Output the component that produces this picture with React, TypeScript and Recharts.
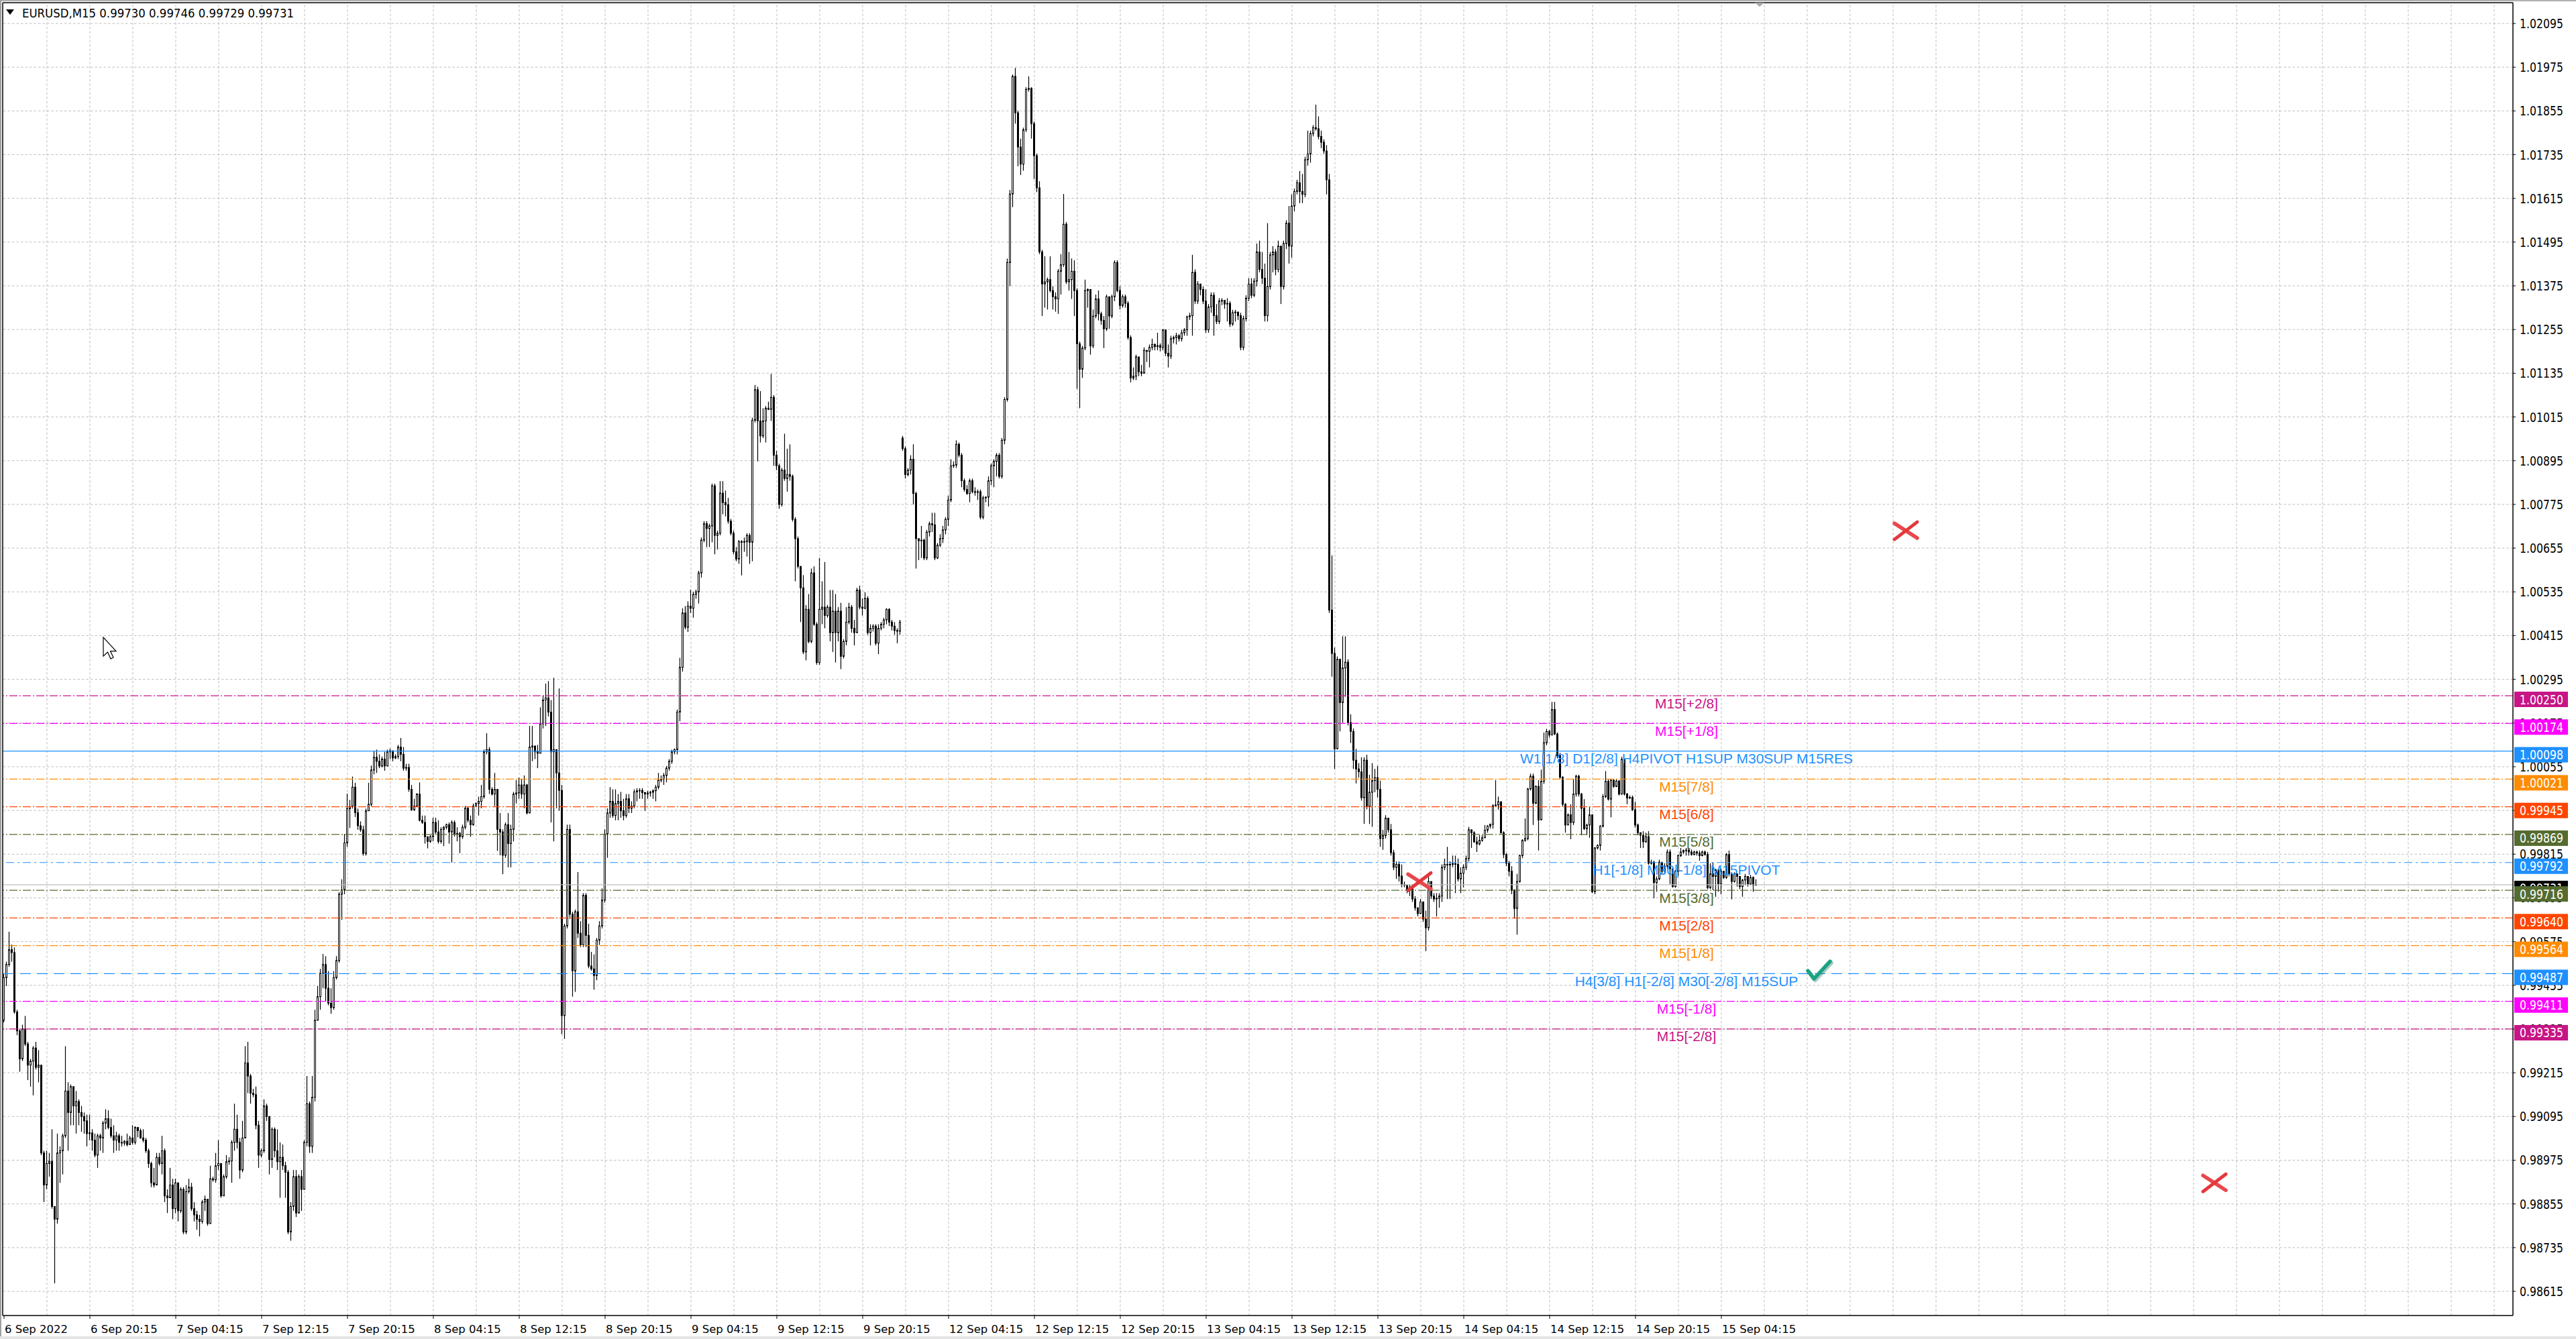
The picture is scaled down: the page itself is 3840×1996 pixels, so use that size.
import React from 'react';
import { ComposedChart, Bar, XAxis, YAxis, ReferenceLine, ReferenceDot } from 'recharts';

// EURUSD M15 candles, prices x 1e5, each bar = [high, low, close]; open = previous close
const FIRST_OPEN = 99359;
const MONDAY_OPEN = 100957;

const SEP06 = [
  [99488, 99353, 99476], [99520, 99453, 99512], [99602, 99506, 99553], [99567, 99520, 99545], [99559, 99377, 99382],
  [99388, 99318, 99330], [99335, 99218, 99253], [99347, 99247, 99335], [99371, 99288, 99294], [99300, 99195, 99236],
  [99253, 99177, 99247], [99288, 99153, 99283], [99300, 99224, 99230], [99277, 99189, 99236], [99230, 98989, 98995],
  [99001, 98860, 98907], [99001, 98895, 98966], [98995, 98930, 98972], [99060, 98842, 98848], [98848, 98637, 98813],
  [99048, 98801, 98995], [99013, 98913, 99001], [99048, 98936, 99042], [99288, 99036, 99165], [99189, 99001, 99106],
  [99183, 99071, 99177], [99177, 99071, 99124], [99165, 99048, 99136], [99142, 99071, 99106], [99124, 99053, 99095],
  [99106, 99048, 99083], [99100, 99013, 99048], [99100, 99030, 99050], [99060, 99001, 99030], [99048, 98983, 98989],
  [99048, 98954, 99042], [99048, 99001, 99036], [99083, 98995, 99077], [99115, 99060, 99089], [99112, 99060, 99065],
  [99089, 99036, 99042], [99071, 98995, 99030], [99053, 99001, 99042], [99048, 99001, 99024], [99042, 99013, 99022],
  [99030, 99015, 99027], [99048, 99013, 99018],
];

const SEP07 = [
  [99042, 99022, 99036], [99071, 99018, 99024], [99068, 99018, 99065], [99065, 99038, 99056], [99062, 99034, 99036],
  [99060, 99024, 99030], [99036, 98995, 99001], [99007, 98954, 98966], [98971, 98901, 98913], [98954, 98900, 98907],
  [98995, 98924, 98983], [98995, 98960, 98966], [99042, 98936, 99001], [99007, 98860, 98877], [98895, 98830, 98872],
  [98954, 98872, 98907], [98924, 98813, 98842], [98924, 98830, 98913], [98913, 98807, 98836], [98901, 98830, 98895],
  [98901, 98772, 98778], [98907, 98772, 98889], [98924, 98883, 98901], [98913, 98836, 98842], [98860, 98807, 98825],
  [98836, 98784, 98813], [98825, 98766, 98807], [98866, 98801, 98860], [98878, 98836, 98868], [98860, 98795, 98801],
  [98960, 98807, 98924], [98930, 98916, 98921], [98995, 98913, 98960], [99030, 98948, 98966], [98960, 98872, 98877],
  [98936, 98883, 98930], [98989, 98924, 98971], [98983, 98963, 98973], [99030, 98913, 99024], [99130, 99001, 99060],
  [99100, 99007, 99024], [99036, 98924, 98948], [99083, 98942, 99036], [99288, 99036, 99242], [99300, 99159, 99206],
  [99212, 99130, 99159], [99171, 99148, 99155], [99177, 99060, 99071], [99083, 98954, 98989], [99007, 98983, 99001],
  [99142, 98995, 99124], [99130, 99083, 99095], [99095, 98936, 98977], [99065, 98954, 99060], [99065, 98983, 99001],
  [99060, 98948, 98971], [99024, 98872, 98983], [99018, 98948, 98960], [98971, 98872, 98942], [98948, 98772, 98778],
  [98860, 98754, 98848], [98948, 98836, 98930], [98948, 98819, 98830], [98936, 98830, 98930], [98948, 98836, 98895],
  [99030, 98895, 99024], [99206, 99013, 99130], [99136, 98995, 99013], [99206, 98995, 99148], [99388, 99136, 99359],
  [99453, 99359, 99424], [99500, 99388, 99488], [99541, 99447, 99512], [99535, 99412, 99447], [99494, 99400, 99406],
  [99447, 99377, 99394], [99494, 99388, 99476], [99535, 99471, 99523], [99711, 99517, 99705], [99746, 99635, 99717],
  [99870, 99705, 99846], [99981, 99835, 99940], [99964, 99887, 99946], [100028, 99940, 99999], [100011, 99917, 99929],
  [99940, 99882, 99893], [99905, 99876, 99882], [99893, 99811, 99817], [99940, 99811, 99934], [100011, 99934, 99952],
  [100058, 99946, 100046], [100099, 100034, 100081], [100102, 100038, 100070], [100089, 100051, 100057], [100083, 100053, 100076],
  [100096, 100044, 100057],
];

const SEP08 = [
  [100102, 100070, 100096], [100105, 100076, 100099], [100089, 100070, 100079], [100089, 100076, 100083], [100115, 100076, 100109],
  [100134, 100070, 100089], [100109, 100044, 100051], [100063, 100044, 100053], [100063, 99986, 99993], [100005, 99934, 99937],
  [99967, 99934, 99947], [99982, 99944, 99980], [100012, 99905, 99908], [99921, 99898, 99902], [99921, 99844, 99863],
  [99863, 99831, 99850], [99867, 99846, 99863], [99915, 99850, 99902], [99915, 99870, 99876], [99908, 99844, 99850],
  [99889, 99844, 99883], [99892, 99837, 99889], [99899, 99883, 99896], [99902, 99844, 99876], [99908, 99792, 99902],
  [99908, 99863, 99870], [99889, 99850, 99872], [99876, 99818, 99863], [99896, 99857, 99889], [99947, 99883, 99941],
  [99944, 99902, 99908], [99921, 99863, 99896], [99954, 99893, 99947], [99957, 99944, 99954], [99973, 99921, 99960],
  [100005, 99941, 99973], [100102, 99967, 100096], [100147, 100089, 100102], [100109, 99980, 99993], [99999, 99976, 99980],
  [100038, 99947, 99993], [99993, 99824, 99883], [99928, 99812, 99876], [99883, 99760, 99812], [99902, 99805, 99896],
  [99928, 99779, 99844], [99896, 99779, 99883], [99986, 99850, 99980], [100018, 99954, 99983], [100025, 99967, 100005],
  [100020, 99967, 99980], [100031, 99941, 100005], [100008, 99924, 99928], [100167, 99993, 100109], [100167, 100070, 100112],
  [100109, 100076, 100096], [100115, 100051, 100092], [100218, 100102, 100173], [100251, 100160, 100238], [100283, 100167, 100244],
  [100290, 100193, 100205], [100238, 99902, 100096], [100299, 99850, 100102], [100102, 99941, 100038], [100270, 99934, 99990],
  [100005, 99321, 99372], [99624, 99308, 99618], [99896, 99611, 99883], [99896, 99637, 99650], [99657, 99424, 99495],
  [99663, 99437, 99657], [99766, 99585, 99598], [99631, 99560, 99566], [99708, 99560, 99702], [99708, 99560, 99592],
  [99624, 99502, 99508], [99547, 99495, 99500], [99540, 99443, 99482], [99585, 99469, 99579], [99631, 99566, 99618],
  [99721, 99611, 99689], [99883, 99682, 99870], [99941, 99805, 99928], [99999, 99915, 99960], [99993, 99915, 99921],
  [99993, 99908, 99954], [99980, 99908, 99960], [99986, 99915, 99934], [99967, 99908, 99921], [99980, 99915, 99967],
  [99980, 99928, 99941], [99960, 99928, 99947], [99993, 99941, 99986], [99996, 99960, 99989], [99996, 99967, 99990],
  [99996, 99967, 99984],
];

const SEP09 = [
  [99986, 99934, 99980], [99989, 99967, 99983], [99989, 99973, 99985], [99993, 99967, 99989], [100005, 99960, 99999],
  [100038, 99993, 100018], [100031, 100012, 100020], [100038, 100005, 100031], [100057, 100012, 100051], [100076, 100044, 100070],
  [100102, 100063, 100096], [100105, 100089, 100102], [100212, 100089, 100205], [100354, 100180, 100328], [100490, 100316, 100477],
  [100496, 100432, 100438], [100509, 100425, 100496], [100541, 100477, 100490], [100535, 100464, 100528], [100541, 100516, 100535],
  [100593, 100503, 100587], [100684, 100574, 100677], [100729, 100671, 100722], [100729, 100658, 100709], [100722, 100658, 100716],
  [100832, 100671, 100826], [100832, 100638, 100690], [100703, 100651, 100696], [100839, 100690, 100806], [100839, 100748, 100780],
  [100813, 100742, 100774], [100793, 100722, 100729], [100735, 100690, 100696], [100703, 100638, 100645], [100658, 100619, 100625],
  [100677, 100612, 100673], [100677, 100580, 100671], [100684, 100645, 100673], [100696, 100632, 100690], [100696, 100612, 100671],
  [101013, 100619, 101006], [101103, 101000, 101090], [101098, 100893, 101004], [101086, 100945, 100963], [101039, 100957, 101004],
  [101045, 100945, 101039], [101057, 101034, 101036], [101133, 101004, 101069], [101075, 100881, 100910], [100922, 100869, 100881],
  [100887, 100763, 100775], [100875, 100769, 100869], [100969, 100840, 100846], [100928, 100810, 100857], [100940, 100840, 100852],
  [100857, 100728, 100734], [100740, 100564, 100681], [100687, 100599, 100605], [100605, 100452, 100546], [100581, 100364, 100370],
  [100499, 100347, 100487], [100529, 100394, 100399], [100599, 100394, 100587], [100605, 100441, 100446], [100452, 100335, 100341],
  [100628, 100335, 100487], [100564, 100446, 100493], [100617, 100435, 100470], [100499, 100464, 100493], [100540, 100399, 100423],
  [100540, 100370, 100482], [100529, 100341, 100423], [100493, 100399, 100482], [100505, 100323, 100358], [100405, 100352, 100399],
  [100493, 100388, 100452], [100505, 100446, 100493], [100499, 100423, 100435], [100458, 100388, 100423], [100546, 100429, 100540],
  [100552, 100487, 100493], [100517, 100470, 100490], [100534, 100487, 100517], [100523, 100417, 100423], [100446, 100388, 100435],
  [100446, 100426, 100441], [100446, 100388, 100394], [100446, 100364, 100435], [100452, 100429, 100446], [100464, 100435, 100458],
  [100490, 100446, 100487], [100490, 100441, 100452], [100458, 100429, 100441], [100452, 100417, 100429], [100435, 100394, 100427],
  [100458, 100417, 100452],
];

const SEP12 = [
  [100963, 100922, 100928], [100934, 100846, 100857], [100875, 100852, 100869], [100910, 100857, 100899], [100940, 100775, 100805],
  [100810, 100599, 100681], [100681, 100622, 100675], [100716, 100628, 100677], [100681, 100622, 100628], [100705, 100622, 100699],
  [100728, 100687, 100722], [100752, 100699, 100719], [100752, 100622, 100628], [100669, 100625, 100663], [100693, 100658, 100681],
  [100716, 100669, 100705], [100740, 100693, 100734], [100799, 100716, 100787], [100899, 100781, 100881], [100893, 100875, 100883],
  [100951, 100875, 100940], [100945, 100904, 100910], [100916, 100822, 100840], [100846, 100810, 100816], [100828, 100801, 100805],
  [100846, 100781, 100840], [100846, 100805, 100810], [100822, 100799, 100808], [100816, 100787, 100810], [100816, 100734, 100740],
  [100799, 100734, 100793], [100797, 100781, 100795], [100852, 100769, 100840], [100887, 100828, 100881], [100899, 100822, 100893],
  [100916, 100852, 100910], [100916, 100846, 100852], [100957, 100846, 100951], [101069, 100940, 101063], [101450, 101057, 101439],
  [101638, 101374, 101627], [101955, 101591, 101950], [101973, 101820, 101850], [101856, 101703, 101756], [101779, 101679, 101709],
  [101809, 101691, 101803], [101920, 101797, 101914], [101950, 101908, 101917], [101920, 101779, 101820], [101826, 101668, 101732],
  [101738, 101632, 101644], [101662, 101462, 101468], [101474, 101292, 101380], [101456, 101315, 101386], [101398, 101310, 101392],
  [101456, 101357, 101362], [101374, 101310, 101345], [101357, 101304, 101339], [101421, 101298, 101415], [101462, 101351, 101433],
  [101627, 101427, 101544], [101550, 101380, 101386], [101468, 101362, 101392], [101450, 101339, 101415], [101445, 101292, 101362],
  [101368, 101092, 101216], [101222, 101039, 101146], [101210, 101122, 101204], [101392, 101198, 101362], [101368, 101315, 101365],
  [101286, 101186, 101210], [101310, 101204, 101292], [101351, 101286, 101339], [101362, 101280, 101298], [101304, 101268, 101280],
  [101292, 101204, 101257], [101351, 101251, 101345], [101339, 101257, 101292], [101351, 101286, 101345], [101445, 101333, 101439],
  [101445, 101357, 101362], [101374, 101310, 101321], [101351, 101315, 101345], [101351, 101315, 101327], [101333, 101227, 101233],
  [101239, 101110, 101122], [101151, 101116, 101127], [101186, 101116, 101180], [101175, 101127, 101139], [101158, 101127, 101135],
  [101206, 101135, 101198], [101198, 101166, 101195], [101214, 101151, 101206], [101230, 101198, 101214], [101217, 101198, 101208],
  [101246, 101198, 101211],
];

const SEP13 = [
  [101217, 101195, 101206], [101256, 101198, 101254], [101254, 101182, 101190], [101214, 101151, 101182], [101238, 101174, 101230],
  [101238, 101217, 101233], [101246, 101214, 101238], [101243, 101222, 101230], [101254, 101222, 101246], [101259, 101238, 101254],
  [101293, 101238, 101290], [101301, 101281, 101293], [101460, 101238, 101412], [101420, 101325, 101333], [101388, 101325, 101380],
  [101380, 101349, 101365], [101373, 101325, 101333], [101365, 101246, 101254], [101325, 101246, 101317], [101357, 101301, 101349],
  [101357, 101238, 101293], [101325, 101270, 101277], [101341, 101270, 101333], [101341, 101322, 101335], [101333, 101312, 101325],
  [101341, 101277, 101327], [101333, 101262, 101270], [101309, 101265, 101301], [101309, 101277, 101303], [101301, 101281, 101293],
  [101301, 101198, 101206], [101293, 101198, 101285], [101349, 101277, 101341], [101396, 101333, 101380], [101396, 101341, 101349],
  [101396, 101344, 101388], [101491, 101373, 101468], [101499, 101412, 101420], [101468, 101380, 101396], [101436, 101277, 101293],
  [101547, 101277, 101373], [101468, 101365, 101460], [101484, 101412, 101468], [101476, 101404, 101420], [101499, 101412, 101484],
  [101476, 101325, 101373], [101499, 101365, 101491], [101555, 101476, 101547], [101594, 101436, 101484], [101626, 101452, 101594],
  [101642, 101579, 101634], [101666, 101626, 101658], [101690, 101602, 101634], [101682, 101602, 101626], [101729, 101618, 101721],
  [101801, 101705, 101737], [101801, 101713, 101793], [101816, 101785, 101809], [101872, 101801, 101806], [101840, 101777, 101785],
  [101801, 101753, 101769], [101777, 101737, 101745], [101761, 101626, 101666], [101682, 100477, 100485], [100635, 100302, 100366],
  [100382, 100049, 100104], [100358, 100144, 100350], [100350, 100152, 100231], [100413, 100176, 100326], [100413, 100247, 100342],
  [100350, 100168, 100176], [100199, 100120, 100152], [100160, 100049, 100073], [100104, 100009, 100049], [100065, 100025, 100041],
  [100081, 99962, 99970], [100081, 99898, 100073], [100088, 99938, 99946], [100033, 99898, 99985], [100065, 99890, 100017],
  [100049, 99985, 100025], [100057, 99970, 99993], [100017, 99835, 99858], [99882, 99827, 99866], [99922, 99858, 99914],
  [99914, 99874, 99882], [99898, 99811, 99819], [99827, 99771, 99779], [99795, 99747, 99787], [99795, 99740, 99755],
  [99787, 99724, 99732], [99740, 99724, 99730], [99724, 99708, 99716], [99732, 99700, 99724],
];

const SEP14 = [
  [99732, 99684, 99692], [99700, 99660, 99668], [99660, 99644, 99652], [99692, 99652, 99684], [99684, 99629, 99637],
  [99660, 99549, 99613], [99763, 99605, 99740], [99740, 99692, 99700], [99708, 99684, 99692], [99708, 99644, 99694],
  [99708, 99668, 99700], [99787, 99684, 99779], [99803, 99771, 99787], [99835, 99692, 99785], [99795, 99692, 99787],
  [99811, 99779, 99789], [99811, 99708, 99787], [99803, 99740, 99747], [99779, 99708, 99763], [99787, 99724, 99779],
  [99811, 99771, 99803], [99890, 99795, 99882],
  [99881, 99832, 99874], [99878, 99846, 99849], [99863, 99821, 99843], [99867, 99839, 99853], [99867, 99849, 99860],
  [99895, 99860, 99881], [99895, 99874, 99892], [99899, 99885, 99897], [99952, 99885, 99948], [100018, 99945, 99950],
  [99973, 99937, 99959], [99955, 99871, 99874], [99878, 99804, 99814], [99818, 99782, 99790], [99797, 99754, 99768],
  [99782, 99705, 99716], [99719, 99638, 99666], [99761, 99594, 99740], [99814, 99737, 99811], [99856, 99804, 99853],
  [99913, 99849, 99858], [99997, 99853, 99994], [100036, 99990, 100029], [100036, 99895, 99955], [100004, 99952, 100001],
  [100018, 99825, 99909], [100047, 100004, 100015], [100149, 100008, 100121], [100159, 100114, 100152], [100156, 100135, 100142],
  [100233, 100142, 100212], [100233, 100142, 100145], [100149, 100078, 100085], [100093, 100022, 100026], [100029, 99945, 99952],
  [99955, 99874, 99895], [99927, 99895, 99923], [99952, 99856, 99902], [100022, 99895, 99980], [100033, 99973, 100029],
  [100033, 99973, 99980], [99983, 99867, 99941], [99966, 99881, 99885], [99899, 99867, 99895], [99945, 99860, 99923],
  [99920, 99708, 99712], [99835, 99705, 99832], [99842, 99828, 99839], [99895, 99825, 99892], [99980, 99888, 99973],
  [100043, 99969, 100015], [100022, 99962, 99966], [100022, 99916, 100018], [100022, 99997, 100001], [100020, 99999, 100016],
  [100018, 99976, 99980], [100082, 99978, 100075], [100071, 99976, 99980], [99983, 99952, 99969], [99976, 99966, 99971],
  [99976, 99934, 99937], [99959, 99888, 99895], [99899, 99867, 99874], [99874, 99832, 99867], [99878, 99832, 99849],
  [99874, 99846, 99863], [99878, 99786, 99790], [99800, 99786, 99793], [99797, 99694, 99737], [99754, 99712, 99747],
  [99800, 99744, 99793],
];

const SEP15 = [
  [99775, 99761, 99768], [99790, 99761, 99782], [99828, 99775, 99821], [99828, 99733, 99775], [99758, 99723, 99726],
  [99772, 99723, 99768], [99814, 99754, 99811], [99832, 99807, 99821], [99828, 99816, 99825], [99832, 99811, 99826],
  [99832, 99811, 99821], [99828, 99811, 99814], [99825, 99812, 99821], [99825, 99811, 99818], [99825, 99797, 99811],
  [99825, 99809, 99821], [99825, 99811, 99814], [99821, 99719, 99723], [99790, 99719, 99761], [99793, 99716, 99754],
  [99775, 99698, 99772], [99768, 99712, 99733], [99775, 99705, 99768], [99765, 99747, 99751], [99818, 99747, 99814],
  [99825, 99754, 99761], [99765, 99691, 99740], [99765, 99737, 99761], [99761, 99726, 99754], [99754, 99719, 99726],
  [99747, 99698, 99744], [99761, 99730, 99754], [99751, 99726, 99733], [99758, 99730, 99751], [99754, 99712, 99730],
  [99746, 99729, 99731],
];

// axis tick labels
const PRICE_TICKS = [
  1.02095, 1.01975, 1.01855, 1.01735, 1.01615, 1.01495, 1.01375, 1.01255, 1.01135, 1.01015,
  1.00895, 1.00775, 1.00655, 1.00535, 1.00415, 1.00295, 1.00175, 1.00055, 0.99935, 0.99815,
  0.99695, 0.99575, 0.99455, 0.99335, 0.99215, 0.99095, 0.98975, 0.98855, 0.98735, 0.98615,
];
const TIME_TICKS = [0, 32, 64, 96, 128, 160, 192, 224, 256, 288, 320, 352, 384, 416, 448, 480, 512, 544, 576, 608, 640];
const TIME_LABELS = [
  '6 Sep 2022', '6 Sep 20:15', '7 Sep 04:15', '7 Sep 12:15', '7 Sep 20:15', '8 Sep 04:15', '8 Sep 12:15',
  '8 Sep 20:15', '9 Sep 04:15', '9 Sep 12:15', '9 Sep 20:15', '12 Sep 04:15', '12 Sep 12:15', '12 Sep 20:15',
  '13 Sep 04:15', '13 Sep 12:15', '13 Sep 20:15', '14 Sep 04:15', '14 Sep 12:15', '14 Sep 20:15', '15 Sep 04:15',
];
const GRID_X = [16, 32, 48, 64, 80, 96, 112, 128, 144, 160, 176, 192, 208, 224, 240, 256, 272, 288, 304, 320,
  336, 352, 368, 384, 400, 416, 432, 448, 464, 480, 496, 512, 528, 544, 560, 576, 592, 608, 624, 640,
  656, 672, 688, 704, 720, 736, 752, 768, 784, 800, 816, 832, 848, 864, 880, 896, 912, 928];

// Murrey-math levels
const LEVEL_PRICES = [1.0025, 1.00174, 1.00098, 1.00021, 0.99945, 0.99869, 0.99792, 0.99716, 0.9964, 0.99564, 0.99487, 0.99411, 0.99335];
const LEVEL_NAMES = [
  'M15[+2/8]', 'M15[+1/8]', 'W1[1/8] D1[2/8] H4PIVOT H1SUP M30SUP M15RES', 'M15[7/8]', 'M15[6/8]', 'M15[5/8]',
  'H1[-1/8] M30[-1/8] M15PIVOT', 'M15[3/8]', 'M15[2/8]', 'M15[1/8]', 'H4[3/8] H1[-2/8] M30[-2/8] M15SUP', 'M15[-1/8]', 'M15[-2/8]',
];
const LEVEL_COLORS = ['#C71585', '#FF00FF', '#1E90FF', '#FF8C00', '#FF4500', '#556B2F', '#1E90FF', '#556B2F', '#FF4500', '#FF8C00', '#1E90FF', '#FF00FF', '#C71585'];
const LEVEL_DASH = ['12 3 2 3', '12 3 2 3', '', '12 3 2 3', '12 3 2 3', '12 3 2 3', '12 5 3 5', '12 3 2 3', '12 3 2 3', '12 3 2 3', '16 9', '12 3 2 3', '12 3 2 3'];

const LAST_PRICE = 0.99731;
const LAST_OHLC = '0.99730 0.99746 0.99729 0.99731';

// price tags on the right scale (drawn after the regular ticks)
const TAG_PRICES = [1.0025, 1.00174, 1.00098, 1.00021, 0.99945, 0.99869, 0.99792, 0.99731, 0.99716, 0.9964, 0.99564, 0.99487, 0.99411, 0.99335];
const TAG_COLORS = ['#C71585', '#FF00FF', '#1E90FF', '#FF8C00', '#FF4500', '#556B2F', '#1E90FF', '#000000', '#556B2F', '#FF4500', '#FF8C00', '#1E90FF', '#FF00FF', '#C71585'];

// markers: [bar index, price]
const CROSSES = [[708.75, 1.007028], [823.75, 0.989129], [527.5, 0.997397]];
const CHECK = [676, 0.994967];
const POINTER = [37, 1.004101];

const Y_MIN = 0.985487;
const Y_MAX = 1.021521;
const X_MIN = -0.5;
const X_MAX = 935;

const SESSIONS = [SEP06, SEP07, SEP08, SEP09, SEP12, SEP13, SEP14, SEP15];
const candles: any[] = [];
{
  let prev = FIRST_OPEN;
  SESSIONS.forEach((bars, s) => {
    bars.forEach(([h, l, c], k) => {
      const o = s === 4 && k === 0 ? MONDAY_OPEN : prev;
      const hi = Math.max(h, o, c);
      const lo = Math.min(l, o, c, hi - 1);
      candles.push({ i: candles.length, o: o / 1e5, h: hi / 1e5, l: lo / 1e5, c: c / 1e5 });
      prev = c;
    });
  });
}

const TAG_TICKS = TAG_PRICES.map((p) => p + 1e-9);
const ALL_Y_TICKS = [...PRICE_TICKS, ...TAG_TICKS];
const FONT = '"DejaVu Sans", Verdana, sans-serif';

function Candle(props: any) {
  const { x, y, width, height, payload } = props;
  if (!payload || x == null || y == null) return null;
  const cx = x + width / 2;
  const top = Math.min(y, y + height);
  const bottom = Math.max(y, y + height);
  const span = payload.h - payload.l || 1e-9;
  const py = (v: number) => top + ((payload.h - v) / span) * (bottom - top);
  const bTop = py(Math.max(payload.o, payload.c));
  const bBot = py(Math.min(payload.o, payload.c));
  const up = payload.c > payload.o;
  return (
    <g>
      <line x1={cx} x2={cx} y1={top} y2={bottom} stroke="#000" strokeWidth={1.2} />
      <rect x={cx - 1} y={bTop} width={2} height={Math.max(bBot - bTop, 0.8)} fill={up ? '#fff' : '#000'} stroke="#000" strokeWidth={1} />
    </g>
  );
}

function YTick(props: any) {
  const { y, payload } = props;
  const v = payload.value;
  const t = TAG_TICKS.indexOf(v);
  if (t >= 0) {
    return (
      <g>
        <rect x={3748} y={y - 6} width={80} height={23} fill={TAG_COLORS[t]} />
        <text x={3756} y={y + 12.5} fill="#fff" fontFamily={FONT} fontSize={19} textLength={65} lengthAdjust="spacingAndGlyphs">{TAG_PRICES[t].toFixed(5)}</text>
      </g>
    );
  }
  return (
    <g>
      <line x1={3746} x2={3750} y1={y} y2={y} stroke="#000" strokeWidth={1} />
      <text x={3756} y={y + 7} fill="#000" fontFamily={FONT} fontSize={19} textLength={65} lengthAdjust="spacingAndGlyphs">{v.toFixed(5)}</text>
    </g>
  );
}

function XTick(props: any) {
  const { x, payload } = props;
  const k = TIME_TICKS.indexOf(payload.value);
  return (
    <g>
      <line x1={x} x2={x} y1={1961} y2={1966} stroke="#000" strokeWidth={1} />
      <text x={x + 1} y={1987} fill="#000" fontFamily={FONT} fontSize={16.5}>{TIME_LABELS[k]}</text>
    </g>
  );
}

const levelLabel = (name: string, color: string) => (p: any) => {
  const vb = p.viewBox || {};
  return (
    <text x={(vb.x || 4) + 2510} y={(vb.y || 0) + 18.5} textAnchor="middle" fill={color}
      fontFamily='"Liberation Sans", Arial, sans-serif' fontSize={21}>{name}</text>
  );
};

const Cross = (p: any) => (
  <g>
    <line x1={p.cx - 17} y1={p.cy - 11} x2={p.cx + 17} y2={p.cy + 11} stroke="#E8484C" strokeWidth={5.5} strokeLinecap="round" />
    <line x1={p.cx - 17} y1={p.cy + 13} x2={p.cx + 17} y2={p.cy - 13} stroke="#E5373C" strokeWidth={5} strokeLinecap="round" />
  </g>
);

const Check = (p: any) => (
  <g>
    <path d={`M${p.cx - 15},${p.cy + 1} L${p.cx - 6},${p.cy + 13} L${p.cx + 18},${p.cy - 13}`} fill="none" stroke="#0E6E5A" strokeOpacity={0.35} strokeWidth={6} strokeLinecap="round" strokeLinejoin="round" transform="translate(2,2)" />
    <path d={`M${p.cx - 15},${p.cy + 1} L${p.cx - 6},${p.cy + 13} L${p.cx + 18},${p.cy - 13}`} fill="none" stroke="#1AA383" strokeWidth={5.5} strokeLinecap="round" strokeLinejoin="round" />
  </g>
);

const Pointer = (p: any) => {
  const x = p.cx, y = p.cy;
  return (
    <path d={`M${x},${y} L${x},${y + 28} L${x + 6.5},${y + 22} L${x + 11},${y + 32} L${x + 15},${y + 30} L${x + 10.5},${y + 20.5} L${x + 19},${y + 20.5} Z`}
      fill="#fff" stroke="#000" strokeWidth={1.2} strokeLinejoin="miter" />
  );
};

const ShiftMark = (p: any) => (
  <path d={`M${p.cx - 7},${p.cy} L${p.cx + 7},${p.cy} L${p.cx},${p.cy + 6} Z`} fill="#A8A8A8" />
);

export default function App() {
  return (
    <div style={{ position: 'relative', width: 3840, height: 1996, background: '#fff', overflow: 'hidden' }}>
      <style>{'body{margin:0;background:#fff}'}</style>
      <ComposedChart width={3840} height={1996} data={candles} margin={{ top: 4, right: 0, bottom: 0, left: 4 }}>
        {PRICE_TICKS.map((p) => (
          <ReferenceLine key={'gy' + p} y={p} stroke="#BDBDBD" strokeDasharray="3.5 3" strokeWidth={1} zIndex={-50} />
        ))}
        {GRID_X.map((g) => (
          <ReferenceLine key={'gx' + g} x={g} stroke="#BDBDBD" strokeDasharray="3.5 3" strokeWidth={1} zIndex={-50} />
        ))}
        <XAxis dataKey="i" type="number" domain={[X_MIN, X_MAX]} allowDataOverflow ticks={TIME_TICKS} interval={0}
          height={35} tick={<XTick />} tickLine={false} axisLine={{ stroke: '#000', strokeWidth: 1.5 }} />
        <YAxis type="number" orientation="right" domain={[Y_MIN, Y_MAX]} allowDataOverflow ticks={ALL_Y_TICKS} interval={0}
          width={94} tick={<YTick />} tickLine={false} axisLine={{ stroke: '#000', strokeWidth: 1.5 }} />
        {LEVEL_PRICES.map((p, k) => (
          <ReferenceLine key={'lv' + k} y={p} stroke={LEVEL_COLORS[k]} strokeWidth={1.2}
            strokeDasharray={LEVEL_DASH[k] || undefined} label={levelLabel(LEVEL_NAMES[k], LEVEL_COLORS[k])} />
        ))}
        <ReferenceLine y={LAST_PRICE} stroke="#BDBDBD" strokeWidth={1.2} />
        <ReferenceLine x={X_MIN} stroke="#000" strokeWidth={1.5} />
        <ReferenceLine y={Y_MAX} stroke="#000" strokeWidth={1.5} />
        <Bar dataKey={(d: any) => [d.l, d.h]} shape={<Candle />} barSize={3} isAnimationActive={false} />
        {CROSSES.map(([i, p], k) => (
          <ReferenceDot key={'x' + k} x={i} y={p} r={1} shape={Cross} />
        ))}
        <ReferenceDot x={CHECK[0]} y={CHECK[1]} r={1} shape={Check} />
        <ReferenceDot x={POINTER[0]} y={POINTER[1]} r={1} shape={Pointer} />
        <ReferenceDot x={654.25} y={Y_MAX} r={1} shape={ShiftMark} />
      </ComposedChart>
      <svg width={700} height={40} style={{ position: 'absolute', left: 0, top: 0, overflow: 'visible' }}>
        <path d="M9,14 L21,14 L15,22 Z" fill="#000" />
        <text x={33} y={26} fontFamily={FONT} fontSize={18.5} fill="#000" textLength={405} lengthAdjust="spacingAndGlyphs">{'EURUSD,M15  ' + LAST_OHLC}</text>
      </svg>
      <div style={{ position: 'absolute', left: 0, top: 0, width: 3840, height: 2, background: '#B0B0B0' }} />
      <div style={{ position: 'absolute', left: 0, top: 0, width: 2, height: 1996, background: '#A0A0A0' }} />
      <div style={{ position: 'absolute', left: 0, bottom: 0, width: 3840, height: 4, background: '#E4E4E4' }} />
    </div>
  );
}
